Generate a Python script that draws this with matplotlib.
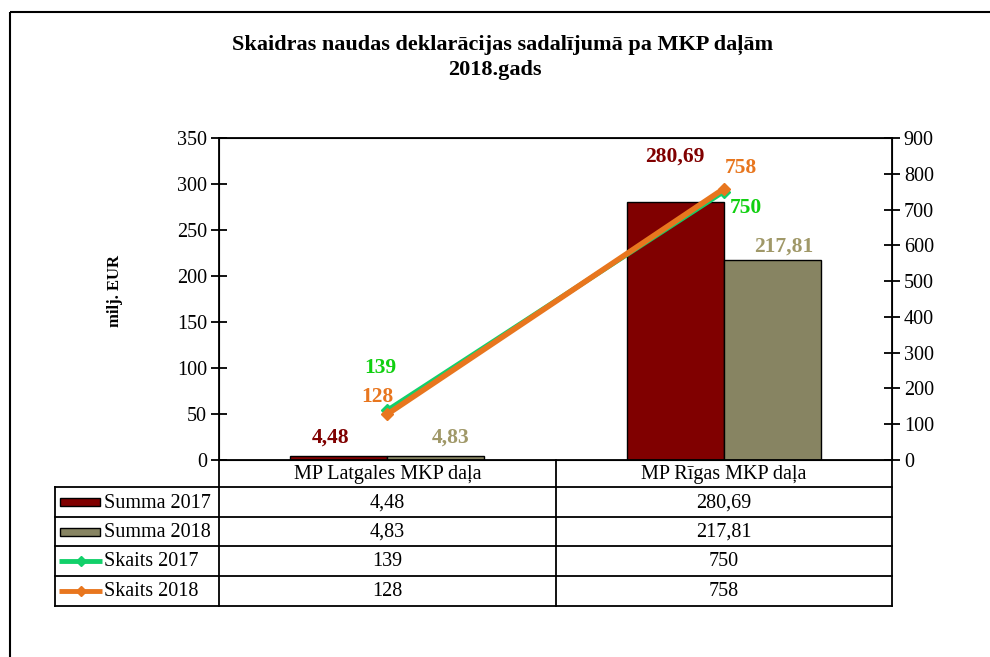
import matplotlib
matplotlib.use('Agg')
import matplotlib.pyplot as plt
from matplotlib.patches import Rectangle
from matplotlib.lines import Line2D
import numpy as np

plt.rcParams['font.family'] = ['Liberation Serif', 'DejaVu Serif']

# dati
kategorijas = ['MP Latgales MKP daļa', 'MP Rīgas MKP daļa']
summa2017 = [4.48, 280.69]
summa2018 = [4.83, 217.81]
skaits2017 = [139, 750]
skaits2018 = [128, 758]
summa2017_txt = ['4,48', '280,69']
summa2018_txt = ['4,83', '217,81']
rindas = ['Summa 2017', 'Summa 2018', 'Skaits 2017', 'Skaits 2018']

c_s17 = '#800000'
c_s18 = '#878462'
c_s18_txt = '#A09868'
c_k17 = '#12D06A'
c_k17_txt = '#10D010'
c_k18 = '#E8761E'

W, H = 990, 657
fig = plt.figure(figsize=(W / 100, H / 100), dpi=100)

# pikseli -> figure daļas
def box(x0, y0, x1, y1):
    return [x0 / W, 1 - y1 / H, (x1 - x0) / W, (y1 - y0) / H]

L, R, T, B = 219, 892, 138, 460
ax = fig.add_axes(box(L, T, R, B))
x = np.arange(len(kategorijas))
w = 0.288
ax.bar(x - w / 2, summa2017, w, color=c_s17, edgecolor='black', lw=1, zorder=2)
ax.bar(x + w / 2, summa2018, w, color=c_s18, edgecolor='black', lw=1, zorder=2)
ax.set_xlim(-0.5, 1.5)
ax.set_ylim(0, 350)
ax.set_yticks(np.arange(0, 351, 50))
ax.set_xticks([])
ax.tick_params(axis='y', direction='inout', length=11, width=1.3, labelsize=14.5, pad=3)
for s in ax.spines.values():
    s.set_linewidth(1.3)
fig.text(115 / W, 1 - 291 / H, 'milj. EUR', rotation=90, ha='center', va='center',
         fontsize=12, fontweight='bold')

# summu etiķetes
offs17 = [(-8, 18), (0, 45)]
offs18 = [(15, 18), (12, 13)]
for i in range(len(x)):
    ax.annotate(summa2017_txt[i], (x[i] - w / 2, summa2017[i]), xytext=offs17[i],
                textcoords='offset pixels', ha='center', va='center',
                fontsize=15.5, fontweight='bold', color=c_s17)
    ax.annotate(summa2018_txt[i], (x[i] + w / 2, summa2018[i]), xytext=offs18[i],
                textcoords='offset pixels', ha='center', va='center',
                fontsize=15.5, fontweight='bold', color=c_s18_txt)

ax2 = ax.twinx()
ax2.set_ylim(0, 900)
ax2.set_yticks(np.arange(0, 901, 100))
ax2.tick_params(axis='y', direction='inout', length=11, width=1.3, labelsize=14.5, pad=3)
ax2.plot(x, skaits2017, color=c_k17, lw=3.5, marker='D', ms=6, zorder=3)
ax2.plot(x, skaits2018, color=c_k18, lw=4, marker='D', ms=6, zorder=4)

offk17 = [(-7, 42), (22, -16)]
offk18 = [(-10, 17), (17, 21)]
for i in range(len(x)):
    ax2.annotate(str(skaits2017[i]), (x[i], skaits2017[i]), xytext=offk17[i],
                 textcoords='offset pixels', ha='center', va='center',
                 fontsize=15.5, fontweight='bold', color=c_k17_txt)
    ax2.annotate(str(skaits2018[i]), (x[i], skaits2018[i]), xytext=offk18[i],
                 textcoords='offset pixels', ha='center', va='center',
                 fontsize=15.5, fontweight='bold', color=c_k18)

# virsraksts
fig.text(0.508, 1 - 45 / H, 'Skaidras naudas deklarācijas sadalījumā pa MKP daļām',
         ha='center', va='center', fontsize=16, fontweight='bold')
fig.text(0.50, 1 - 70 / H, '2018.gads', ha='center', va='center', fontsize=16, fontweight='bold')

# datu tabula (pikseļu koordinātās)
ov = fig.add_axes([0, 0, 1, 1], zorder=5)
ov.set_xlim(0, W)
ov.set_ylim(H, 0)
ov.axis('off')
ov.patch.set_alpha(0)

ov.add_patch(Rectangle((10, 12), 1000, 700, fill=False, lw=1.5, ec='black'))

tl, tr, mid = 55, R, (L + R) / 2
rows_y = [460, 487, 517, 546, 576, 606]
lk = dict(color='black', lw=1.3)
for yy in rows_y[1:]:
    ov.add_line(Line2D([tl, tr], [yy, yy], **lk))
for xx in [L, mid, tr]:
    ov.add_line(Line2D([xx, xx], [rows_y[0], rows_y[-1]], **lk))
ov.add_line(Line2D([tl, tl], [rows_y[1], rows_y[-1]], **lk))

cx = [(L + mid) / 2, (mid + tr) / 2]
for j, k in enumerate(kategorijas):
    ov.text(cx[j], (rows_y[0] + rows_y[1]) / 2 + 1, k, ha='center', va='center', fontsize=14.5)

vert = [summa2017_txt, summa2018_txt, [str(v) for v in skaits2017], [str(v) for v in skaits2018]]
krasas = [c_s17, c_s18, c_k17, c_k18]
for r in range(len(rindas)):
    yc = (rows_y[r + 1] + rows_y[r + 2]) / 2
    if r < 2:
        ov.add_patch(Rectangle((60, yc - 4), 40, 8, fc=krasas[r], ec='black', lw=1))
    else:
        ov.add_line(Line2D([59, 102], [yc, yc], color=krasas[r], lw=3.5, solid_capstyle='butt'))
        ov.add_line(Line2D([81], [yc], color=krasas[r], marker='D', ms=5, lw=0))
    ov.text(104, yc + 1, rindas[r], ha='left', va='center', fontsize=14.5)
    for j in range(len(kategorijas)):
        ov.text(cx[j], yc + 1, vert[r][j], ha='center', va='center', fontsize=14.5)

fig.savefig('out.png', dpi=100)
